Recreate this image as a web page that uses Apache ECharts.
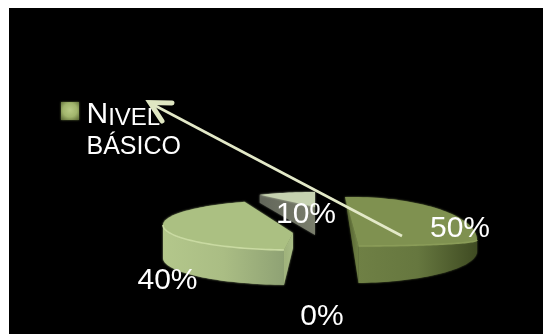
<!DOCTYPE html>
<html><head><meta charset="utf-8">
<style>html,body{margin:0;padding:0;background:#fff}#c{width:543px;height:334px}</style>
<script src="https://cdn.jsdelivr.net/npm/echarts@6/dist/echarts.min.js"></script>
</head><body><div id="c"></div>
<script>
const categories = ['Nivel básico', 'Nivel medio', 'Nivel alto', 'Sin nivel'];
const seriesValues = [50, 40, 10, 0];
const legendLines = [[['N', 'big'], ['IVEL', 'small']], [['BÁSICO', 'line']]];
const startAngle = -3;

// Drawing layout of each slice (perspective + explosion of the flat 3D picture)
const sliceLayouts = [
  {cx:352, cy:240, rx:125, ryBack:43, ryFront:6, ax:345, ay:197, aDepth:0, hSide:11, hFront:37, shift:0, sweep:1, cut:'end', z:4,
   top:'#7f9150', rim:'#8a9c58', cutCol:['#4f5c2c','#6f8045'], wall:['#6f8045','#66773f','#3f4b22'], label:[460,229]},
  {cx:293, cy:225, rx:130, ryBack:25, ryFront:25, ax:293, ay:233, aDepth:15, hSide:33, hFront:35, shift:7, sweep:1.07, cut:'start', z:3,
   top:'#abc082', rim:'#c9daa2', cutCol:['#9db07a','#a9bd85'], wall:['#b3c78b','#aabd84','#8fa274'], label:[167.5,281]},
  {cx:315, cy:207, rx:94, ryBack:15, ryFront:15, ax:315, ay:207, aDepth:28, hSide:8, hFront:8, shift:3, sweep:1, cut:'start', z:2,
   top:'#c6d2b0', rim:null, cutCol:['#62665a','#7a7e6c'], wall:null, label:[306,215]},
  {cx:322, cy:300, rx:0, ryBack:0, ryFront:0, ax:322, ay:300, aDepth:0, hSide:0, hFront:0, shift:0, sweep:1, cut:'start', z:5,
   top:'#000', rim:null, cutCol:['#000','#000'], wall:null, label:[322,317]}
];
const arrowLine = [[402,236],[152,104]];
const arrowHead = [[172,103],[150,102.5],[162,121]];

const total = seriesValues.reduce((a,b)=>a+b,0);
const rad = d => d*Math.PI/180;
function rimPt(L, deg){
  const t = rad(deg), c = Math.cos(t);
  return [L.cx + L.rx*Math.sin(t), L.cy - (c>=0 ? L.ryBack : L.ryFront)*c];
}
const depth = (L,deg) => L.hSide + (L.hFront-L.hSide)*Math.max(0,-Math.cos(rad(deg)));
function arc(a,b,f){
  const out=[], n=Math.max(2,Math.ceil(Math.abs(b-a)/2));
  for(let i=0;i<=n;i++){ out.push(f(a+(b-a)*i/n)); }
  return out;
}
const linear = stops=>({type:'linear',x:0,y:0,x2:1,y2:0,colorStops:stops.map((c,i)=>({offset:i/(stops.length-1),color:c}))});
const soft = c=>({shadowBlur:2,shadowColor:c});

function makeSeries(idx){
  const L = sliceLayouts[idx];
  let before = 0; for(let i=0;i<idx;i++) before += seriesValues[i];
  return {
    type:'custom', name:categories[idx], coordinateSystem:'none', z:L.z, silent:true,
    data:[[seriesValues[idx]]],
    renderItem:(params,api)=>{
      const v = api.value(0);
      const a0 = startAngle + before/total*360 + L.shift;
      const a1 = a0 + v/total*360*L.sweep;
      const children=[];
      if(v>0){
        const rim = arc(a0,a1,d=>rimPt(L,d));
        const cutA = L.cut==='end'?a1:a0;
        const cp = rimPt(L,cutA), h = depth(L,cutA);
        children.push({type:'polygon',shape:{points:[[L.ax,L.ay],cp,[cp[0],cp[1]+h],[L.ax,L.ay+L.aDepth]]},
          style:{fill:linear(L.cutCol),...soft(L.cutCol[0])}});
        const w0=Math.max(a0,90), w1=Math.min(a1,270);
        if(L.wall && w1>w0){
          const up=arc(w0,w1,d=>rimPt(L,d));
          const down=arc(w1,w0,d=>{const p=rimPt(L,d);return [p[0],p[1]+depth(L,d)];});
          // gradient runs left to right across the wall
          children.push({type:'polygon',shape:{points:up.concat(down)},style:{fill:linear(L.wall),...soft(L.wall[1])}});
        }
        children.push({type:'polygon',shape:{points:rim.concat([[L.ax,L.ay]])},style:{fill:L.top,...soft(L.top)}});
        if(L.rim && w1>w0){
          children.push({type:'polyline',shape:{points:arc(w0,w1,d=>rimPt(L,d))},style:{stroke:L.rim,lineWidth:1.6,fill:null}});
        }
      }
      children.push({type:'text',z2:50,style:{text:Math.round(v/total*100)+'%',x:L.label[0],y:L.label[1],
        align:'center',verticalAlign:'middle',fill:'#fff',font:'30px "Liberation Sans", Arial, sans-serif'}});
      return {type:'group',children};
    }
  };
}

const legendFonts = {big:30, small:24, line:25};
const legendX = 86.5, legendBase = [124,159];
const legendTexts=[];
legendLines.forEach((line,i)=>{
  legendTexts.push({type:'text',z:20,left:legendX,top:legendBase[i]-24,style:{
    text:line.map(([t,k])=>'{'+k+'|'+t+'}').join(''),
    rich:Object.fromEntries(Object.entries(legendFonts).map(([k,s])=>[k,{fontSize:s,fontFamily:'"Liberation Sans", Arial, sans-serif',fill:'#fff',verticalAlign:'bottom',lineHeight:30}])),
    fill:'#fff'}});
});

const chart = echarts.init(document.getElementById('c'),null,{renderer:'canvas'});
chart.setOption({
  animation:false,
  backgroundColor:'#fff',
  graphic:[
    {type:'rect',z:-10,shape:{x:9,y:8,width:534,height:326},style:{fill:'#000'}},
    {type:'rect',z:20,shape:{x:61,y:102,width:18,height:18},style:{fill:{type:'radial',x:0.5,y:0.45,r:0.7,colorStops:[{offset:0,color:'#b9cb85'},{offset:0.55,color:'#a1b56c'},{offset:1,color:'#5f6e38'}]},shadowBlur:2,shadowColor:'#5f6e38'}},
    ...legendTexts,
    {type:'polyline',z:30,shape:{points:arrowLine},style:{stroke:'#e3e9c8',lineWidth:2.6,fill:null}},
    {type:'polyline',z:30,shape:{points:arrowHead},style:{stroke:'#dfe6c2',lineWidth:5,fill:null,lineCap:'round',lineJoin:'miter'}}
  ],
  series: categories.map((_,i)=>makeSeries(i))
});
</script></body></html>
